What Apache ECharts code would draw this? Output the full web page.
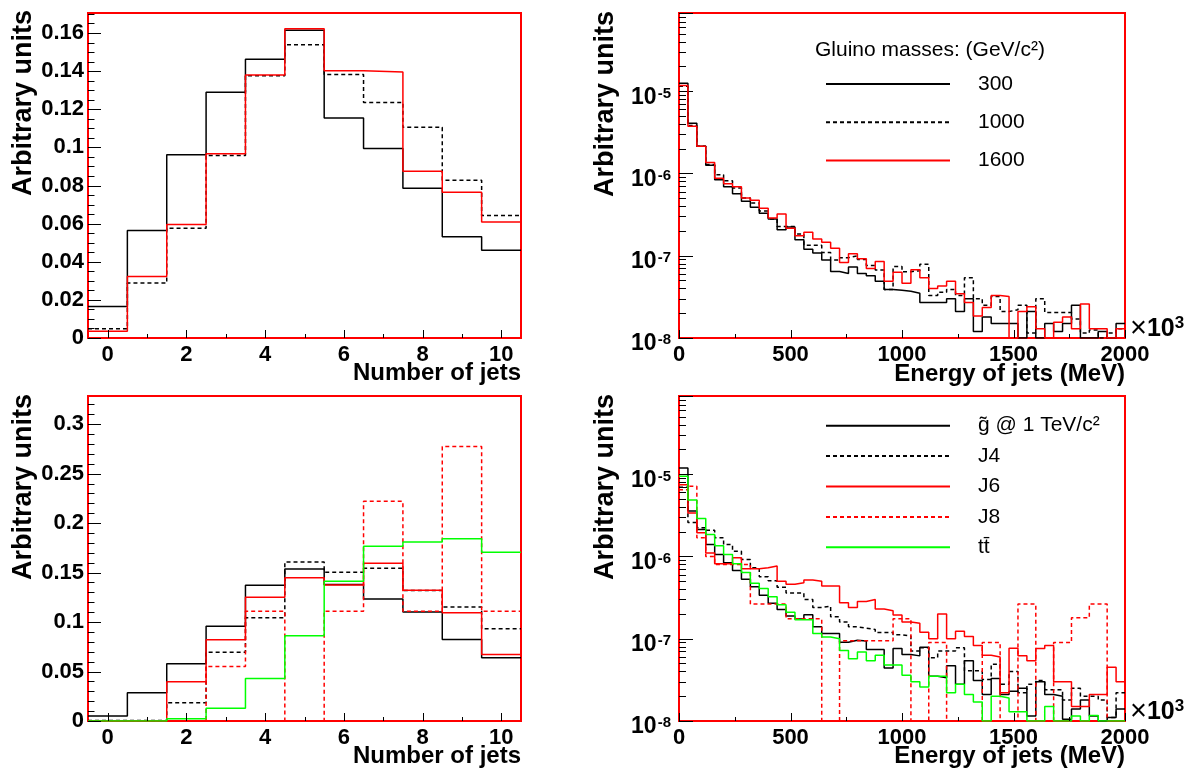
<!DOCTYPE html>
<html>
<head>
<meta charset="utf-8">
<script src="https://cdn.jsdelivr.net/npm/echarts@6/dist/echarts.min.js"></script>
<style>
html, body { margin: 0; padding: 0; background: #ffffff; }
#chart { width: 1188px; height: 774px; }
</style>
</head>
<body>
<div id="chart"></div>
<script>
// ---- Binning ----
const jetCounts = [0, 1, 2, 3, 4, 5, 6, 7, 8, 9, 10];
const energyBinWidth = 40;      // x10^3 MeV per bin
const energyBinCount = 50;      // 0 .. 2000

// ---- Tick positions ----
const jetMajorTicks = [0, 2, 4, 6, 8, 10];
const jetMinorTicks = [1, 3, 5, 7, 9];
const energyMajorTicks = [0, 500, 1000, 1500, 2000];
const energyMinorTicks = [250, 750, 1250, 1750];
const topYMajorTicks = [0, 0.02, 0.04, 0.06, 0.08, 0.1, 0.12, 0.14, 0.16];
const topYMinorStep = 0.005;
const bottomYMajorTicks = [0, 0.05, 0.1, 0.15, 0.2, 0.25, 0.3];
const bottomYMinorStep = 0.01;

// ---- Top-left: number of jets, gluino mass samples ----
const nJets300  = [0.0165, 0.0564, 0.0961, 0.1289, 0.1463, 0.1614, 0.1154, 0.0994, 0.0786, 0.0531, 0.0460];
const nJets1000 = [0.0049, 0.0288, 0.0576, 0.0958, 0.1376, 0.1539, 0.1383, 0.1236, 0.1105, 0.0828, 0.0642];
const nJets1600 = [0.0035, 0.0323, 0.0595, 0.0967, 0.1380, 0.1623, 0.1402, 0.1395, 0.0875, 0.0765, 0.0609];

// ---- Top-right: jet energy, gluino mass samples ----
const eJets300 = [
  1.26e-5, 4.1e-6, 2.15e-6, 1.26e-6, 8.4e-7, 6.9e-7, 5.7e-7, 4.6e-7, 3.9e-7, 3.3e-7,
  2.8e-7, 2.07e-7, 2.24e-7, 1.57e-7, 1.2e-7, 1.08e-7, 8.9e-8, 6.45e-8, 6.1e-8, 7.3e-8,
  6.1e-8, 5.7e-8, 4.9e-8, 3.9e-8, 3.8e-8, 3.7e-8, 3.5e-8, 2.7e-8, 2.7e-8, 2.7e-8,
  3.0e-8, 2.1e-8, 3.0e-8, 1.2e-8, 1.8e-8, 1.5e-8, 1.5e-8, 1.5e-8, 0, 2.1e-8,
  0, 1.5e-8, 1.2e-8, 1.5e-8, 2.5e-8, 0, 1.0e-8, 1.2e-8, 0, 1.5e-8
];
const eJets1000 = [
  1.16e-5, 3.85e-6, 2.15e-6, 1.29e-6, 9.7e-7, 8.2e-7, 6.7e-7, 5.05e-7, 4.4e-7, 3.5e-7,
  2.8e-7, 2.28e-7, 2.28e-7, 1.84e-7, 1.34e-7, 1.34e-7, 1.1e-7, 8.9e-8, 9.5e-8, 1.0e-7,
  9.0e-8, 7.6e-8, 6.7e-8, 3.9e-8, 7.4e-8, 6.4e-8, 6.6e-8, 7.9e-8, 3.3e-8, 3.6e-8,
  3.9e-8, 3.3e-8, 5.4e-8, 3.0e-8, 2.5e-8, 3.2e-8, 2.1e-8, 2.2e-8, 2.5e-8, 1.15e-8,
  3.0e-8, 2.05e-8, 2.05e-8, 2.05e-8, 1.7e-8, 1.15e-8, 1.25e-8, 0, 1.15e-8, 1.3e-8
];
const eJets1600 = [
  1.18e-5, 3.78e-6, 2.15e-6, 1.37e-6, 8.8e-7, 7.55e-7, 6.9e-7, 5.05e-7, 4.73e-7, 3.8e-7,
  2.88e-7, 3.22e-7, 2.17e-7, 1.75e-7, 1.93e-7, 1.6e-7, 1.46e-7, 1.24e-7, 8.3e-8, 1.06e-7,
  9.2e-8, 7.0e-8, 8.5e-8, 4.9e-8, 6.3e-8, 4.65e-8, 6.75e-8, 5.4e-8, 4.0e-8, 4.3e-8,
  4.9e-8, 3.45e-8, 2.7e-8, 1.85e-8, 2.35e-8, 3.3e-8, 3.2e-8, 0, 2.1e-8, 2.4e-8,
  1.3e-8, 0, 1.55e-8, 1.8e-8, 1.3e-8, 2.6e-8, 1.3e-8, 1.3e-8, 0, 1.3e-8
];

// ---- Bottom-left: number of jets, signal and background samples ----
const nJetsGluino = [0.0050, 0.0286, 0.0578, 0.0958, 0.1372, 0.1537, 0.1380, 0.1234, 0.1103, 0.0824, 0.0639];
const nJetsJ4     = [0.0005, 0.0005, 0.0185, 0.0696, 0.1043, 0.1607, 0.1503, 0.1544, 0.1318, 0.1153, 0.0932];
const nJetsJ6     = [0, 0, 0.0397, 0.0821, 0.1251, 0.1449, 0.1375, 0.1594, 0.1322, 0.1093, 0.0673];
const nJetsJ8     = [0, 0, 0, 0.0552, 0.1110, 0, 0.1110, 0.2220, 0.1110, 0.2774, 0.1110];
const nJetsTT     = [0, 0, 0.0024, 0.0128, 0.0430, 0.0861, 0.1412, 0.1766, 0.1809, 0.1843, 0.1705];

// ---- Bottom-right: jet energy, signal and background samples ----
const eJetsGluino = [
  1.2e-5, 3.6e-6, 2.14e-6, 1.4e-6, 1.06e-6, 8.4e-7, 6.8e-7, 5.3e-7, 4.3e-7, 3.4e-7,
  2.7e-7, 2.28e-7, 1.9e-7, 1.74e-7, 1.96e-7, 1.4e-7, 1.16e-7, 1.16e-7, 9.1e-8, 9.6e-8,
  9.4e-8, 7.4e-8, 7.4e-8, 4.4e-8, 7.6e-8, 6.45e-8, 6.2e-8, 7.9e-8, 3.5e-8, 3.35e-8,
  4.7e-8, 2.8e-8, 5.4e-8, 3.1e-8, 2.1e-8, 3.3e-8, 2.1e-8, 2.3e-8, 2.5e-8, 1.15e-8,
  3.0e-8, 2.1e-8, 2.0e-8, 1.05e-8, 1.4e-8, 1.8e-8, 1.15e-8, 0, 1.1e-8, 1.4e-8
];
const eJetsJ4 = [
  7.0e-6, 2.6e-6, 2.25e-6, 2.1e-6, 1.7e-6, 1.4e-6, 1.16e-6, 9.2e-7, 7.3e-7, 5.7e-7,
  5.1e-7, 4.25e-7, 3.6e-7, 3.6e-7, 3.0e-7, 2.4e-7, 2.5e-7, 1.85e-7, 1.6e-7, 1.4e-7,
  1.35e-7, 1.3e-7, 1.19e-7, 1.19e-7, 1.12e-7, 1.08e-7, 7.1e-8, 7.8e-8, 5.9e-8, 7.1e-8,
  7.1e-8, 7.8e-8, 4.1e-8, 4.1e-8, 3.2e-8, 4.9e-8, 2.8e-8, 4.0e-8, 2.2e-8, 2.8e-8,
  3.1e-8, 2.4e-8, 2.4e-8, 1.8e-8, 2.5e-8, 2.0e-8, 2.0e-8, 1.8e-8, 1.1e-8, 2.2e-8
];
const eJetsJ6 = [
  7.5e-6, 3.4e-6, 1.95e-6, 1.11e-6, 8.2e-7, 8.2e-7, 9.7e-7, 7.1e-7, 7.1e-7, 7.3e-7,
  7.7e-7, 5.0e-7, 4.6e-7, 4.8e-7, 5.2e-7, 5.0e-7, 4.4e-7, 4.4e-7, 2.75e-7, 2.4e-7,
  2.85e-7, 3.0e-7, 2.3e-7, 2.2e-7, 1.95e-7, 1.6e-7, 1.55e-7, 1.2e-7, 1.0e-7, 2.0e-7,
  1.0e-7, 1.24e-7, 1.07e-7, 8.3e-8, 6.3e-8, 6.0e-8, 2.2e-8, 7.7e-8, 6.2e-8, 5.4e-8,
  7.6e-8, 8.3e-8, 3.0e-8, 3.0e-8, 1.5e-8, 1.5e-8, 2.1e-8, 2.1e-8, 4.5e-8, 3.0e-8
];
const eJetsJ8 = [
  6.5e-6, 7.2e-6, 1.7e-6, 1.0e-6, 8.0e-7, 8.0e-7, 8.0e-7, 8.0e-7, 2.65e-7, 2.65e-7,
  2.65e-7, 2.65e-7, 1.75e-7, 1.75e-7, 1.75e-7, 1.75e-7, 0, 0, 9.5e-8, 9.5e-8,
  9.5e-8, 9.5e-8, 9.5e-8, 9.5e-8, 1.75e-7, 1.75e-7, 0, 0, 9.0e-8, 9.0e-8,
  0, 0, 0, 0, 9.0e-8, 9.0e-8, 0, 0, 2.65e-7, 2.65e-7,
  0, 0, 9.0e-8, 9.0e-8, 1.8e-7, 1.8e-7, 2.65e-7, 2.65e-7, 0, 0
];
const eJetsTT = [
  9.5e-6, 4.9e-6, 2.9e-6, 1.86e-6, 1.36e-6, 1.06e-6, 8.2e-7, 6.4e-7, 4.75e-7, 4.1e-7,
  3.26e-7, 2.6e-7, 2.1e-7, 1.7e-7, 1.7e-7, 1.16e-7, 1.05e-7, 1.0e-7, 7.2e-8, 5.7e-8,
  6.9e-8, 5.4e-8, 6.3e-8, 4.8e-8, 4.8e-8, 3.6e-8, 3.0e-8, 2.6e-8, 3.5e-8, 3.5e-8,
  2.2e-8, 2.8e-8, 2.1e-8, 1.7e-8, 0, 2.0e-8, 1.9e-8, 1.3e-8, 1.3e-8, 0,
  0, 1.5e-8, 0, 0, 1.15e-8, 0, 1.17e-8, 0, 0, 0
];

// ---- Legend entries ----
const massLabels = ['300', '1000', '1600'];
const sampleLabels = ['g\u0303 @ 1 TeV/c\u00b2', 'J4', 'J6', 'J8', 'tt\u0304'];
const massTitle = 'Gluino masses: (GeV/c\u00b2)';

// ---- Axis ranges ----
const jetXMin = -0.5, jetXMax = 10.5;
const jetYMaxTop = 0.1705;
const jetYMaxBottom = 0.3285;
const logMin = 1e-8;
const logMax = 9e-5;

const FONT = '"Liberation Sans", Arial, Helvetica, sans-serif';
const RED = '#ff0000', BLACK = '#000000', GREEN = '#00ff00';

// Bin edges
const jetEdges = jetCounts.map(n => n - 0.5).concat([jetCounts[jetCounts.length - 1] + 0.5]);
const energyEdges = Array.from({ length: energyBinCount + 1 }, (_, i) => i * energyBinWidth);

// Minor tick positions between the labelled ticks
function minorTicks(step, upTo, majorStep) {
  const out = [];
  for (let i = 1; i * step <= upTo + 1e-9; i++) {
    const v = +(i * step).toFixed(4);
    const r = v / majorStep;
    if (Math.abs(r - Math.round(r)) > 1e-6) out.push(v);
  }
  return out;
}
const topYMinorTicks = minorTicks(topYMinorStep, 0.17, 0.02);
const bottomYMinorTicks = minorTicks(bottomYMinorStep, 0.32, 0.05);

// Outline points for a step histogram; empty bins drop to the floor of a log axis
function outline(edges, values, floor) {
  const pts = values.map((v, i) => [edges[i], (floor != null && v < floor) ? floor : v]);
  pts.push([edges[edges.length - 1], pts[pts.length - 1][1]]);
  return pts;
}

function hist(name, edges, values, axis, color, dashed, floor) {
  return {
    type: 'line',
    name: name,
    xAxisIndex: axis,
    yAxisIndex: axis,
    data: outline(edges, values, floor),
    step: 'end',
    symbol: 'none',
    z: 3,
    lineStyle: { color: color, width: 1.5, type: dashed ? [4, 3] : 'solid' },
    itemStyle: { color: color },
    emphasis: { disabled: true }
  };
}

const gridBase = { show: true, borderColor: RED, borderWidth: 2 };
const grids = [
  Object.assign({ left: 88,  top: 13,  width: 433, height: 325 }, gridBase),
  Object.assign({ left: 679, top: 13,  width: 446, height: 325 }, gridBase),
  Object.assign({ left: 88,  top: 396, width: 433, height: 325 }, gridBase),
  Object.assign({ left: 679, top: 396, width: 446, height: 325 }, gridBase)
];

const tickLabel = { color: BLACK, fontSize: 22, fontWeight: 'bold', fontFamily: FONT };
const noTicks = { axisTick: { show: false }, minorTick: { show: false } };

function jetXAxis(gi) {
  return Object.assign({
    type: 'value', gridIndex: gi, min: jetXMin, max: jetXMax, minInterval: 2, maxInterval: 2,
    axisLine: { show: false, onZero: false }, splitLine: { show: false },
    axisLabel: Object.assign({ margin: 6, showMinLabel: false, showMaxLabel: false, formatter: v => String(v) }, tickLabel)
  }, noTicks);
}
function energyXAxis(gi) {
  return Object.assign({
    type: 'value', gridIndex: gi, min: 0, max: 2000, interval: 500,
    axisLine: { show: false, onZero: false }, splitLine: { show: false },
    axisLabel: Object.assign({ margin: 6, formatter: v => String(v) }, tickLabel)
  }, noTicks);
}
function linearYAxis(gi, max, interval) {
  return Object.assign({
    type: 'value', gridIndex: gi, min: 0, max: max, interval: interval,
    axisLine: { show: false, onZero: false }, splitLine: { show: false },
    axisLabel: Object.assign({ margin: 4, showMaxLabel: false, formatter: v => String(+v.toFixed(4)) }, tickLabel)
  }, noTicks);
}
function logYAxis(gi) {
  return {
    type: 'log', logBase: 10, gridIndex: gi, min: logMin, max: logMax,
    axisLine: { show: false, onZero: false }, splitLine: { show: false },
    axisTick: { show: true, inside: true, length: 14, lineStyle: { color: BLACK, width: 1 } },
    minorTick: { show: true, splitNumber: 9, length: 7, lineStyle: { color: BLACK, width: 1 } },
    axisLabel: {
      margin: 8, showMaxLabel: false, color: BLACK, padding: [12, 0, 0, 0],
      formatter: v => '{b|10}{s|' + Math.round(Math.log10(v)) + '}',
      rich: {
        b: { fontSize: 23, fontWeight: 'bold', fontFamily: FONT, color: BLACK },
        s: { fontSize: 15, fontWeight: 'bold', fontFamily: FONT, color: BLACK, verticalAlign: 'top', padding: [0, 0, 8, 1] }
      }
    }
  };
}

function yTitle(x, y) {
  return {
    type: 'text', x: x, y: y, rotation: Math.PI / 2, silent: true,
    style: { text: 'Arbitrary units', fontSize: 27, fontWeight: 'bold', fontFamily: FONT, fill: BLACK, align: 'right', verticalAlign: 'middle' }
  };
}
function xTitle(text, x, y) {
  return {
    type: 'text', x: x, y: y, silent: true,
    style: { text: text, fontSize: 24, fontWeight: 'bold', fontFamily: FONT, fill: BLACK, align: 'right', verticalAlign: 'middle' }
  };
}
function scaleNote(x, y) {
  return {
    type: 'text', x: x, y: y, silent: true,
    style: {
      text: '{x|\u00d7}{b|10}{s|3}', align: 'left', verticalAlign: 'middle',
      rich: {
        x: { fontSize: 29, fontFamily: FONT, fill: BLACK, fontWeight: 'normal' },
        b: { fontSize: 25, fontFamily: FONT, fill: BLACK, fontWeight: 'bold' },
        s: { fontSize: 17, fontFamily: FONT, fill: BLACK, fontWeight: 'bold', verticalAlign: 'top', padding: [0, 0, 10, 0] }
      }
    }
  };
}
function legendHeading(text, x, y) {
  return {
    type: 'text', x: x, y: y, silent: true,
    style: { text: text, fontSize: 21, fontFamily: FONT, fill: BLACK, align: 'left', verticalAlign: 'middle' }
  };
}

const legendText = { fontSize: 21, fontFamily: FONT, color: BLACK, lineHeight: 24, padding: [0, 0, 0, 23] };
const legendHiddenSymbol = { color: 'transparent', borderColor: 'transparent', borderWidth: 0, opacity: 0 };

const textGraphics = [
  legendHeading(massTitle, 815, 50),
  yTitle(24, 10), yTitle(606, 11), yTitle(24, 394), yTitle(606, 394),
  xTitle('Number of jets', 521, 373), xTitle('Energy of jets (MeV)', 1125, 374),
  xTitle('Number of jets', 521, 756), xTitle('Energy of jets (MeV)', 1125, 756),
  scaleNote(1130, 329), scaleNote(1130, 712)
];

const option = {
  animation: false,
  grid: grids,
  xAxis: [jetXAxis(0), energyXAxis(1), jetXAxis(2), energyXAxis(3)],
  yAxis: [linearYAxis(0, jetYMaxTop, 0.02), logYAxis(1), linearYAxis(2, jetYMaxBottom, 0.05), logYAxis(3)],
  legend: [
    {
      data: massLabels, orient: 'vertical', left: 825, top: 72, padding: 0,
      itemWidth: 124, itemHeight: 24, itemGap: 14.2, selectedMode: false,
      itemStyle: legendHiddenSymbol, textStyle: legendText
    },
    {
      data: sampleLabels, orient: 'vertical', left: 825, top: 413.7, padding: 0,
      itemWidth: 124, itemHeight: 24, itemGap: 6.4, selectedMode: false,
      itemStyle: legendHiddenSymbol, textStyle: legendText
    }
  ],
  graphic: textGraphics,
  series: [
    hist(massLabels[0], jetEdges, nJets300, 0, BLACK, false),
    hist(massLabels[1], jetEdges, nJets1000, 0, BLACK, true),
    hist(massLabels[2], jetEdges, nJets1600, 0, RED, false),

    hist(massLabels[0], energyEdges, eJets300, 1, BLACK, false, logMin),
    hist(massLabels[1], energyEdges, eJets1000, 1, BLACK, true, logMin),
    hist(massLabels[2], energyEdges, eJets1600, 1, RED, false, logMin),

    hist(sampleLabels[0], jetEdges, nJetsGluino, 2, BLACK, false),
    hist(sampleLabels[1], jetEdges, nJetsJ4, 2, BLACK, true),
    hist(sampleLabels[2], jetEdges, nJetsJ6, 2, RED, false),
    hist(sampleLabels[3], jetEdges, nJetsJ8, 2, RED, true),
    hist(sampleLabels[4], jetEdges, nJetsTT, 2, GREEN, false),

    hist(sampleLabels[0], energyEdges, eJetsGluino, 3, BLACK, false, logMin),
    hist(sampleLabels[1], energyEdges, eJetsJ4, 3, BLACK, true, logMin),
    hist(sampleLabels[2], energyEdges, eJetsJ6, 3, RED, false, logMin),
    hist(sampleLabels[3], energyEdges, eJetsJ8, 3, RED, true, logMin),
    hist(sampleLabels[4], energyEdges, eJetsTT, 3, GREEN, false, logMin)
  ]
};

const chart = echarts.init(document.getElementById('chart'));
chart.setOption(option);

// Inward frame ticks, placed through each grid's own scales
const tickGraphics = [];
function addXTicks(gi, values, yAt, len) {
  values.forEach(v => {
    const p = chart.convertToPixel({ gridIndex: gi }, [v, yAt]);
    if (!p) return;
    const x = Math.round(p[0]) + 0.5;
    tickGraphics.push({ type: 'line', silent: true, z: 100,
      shape: { x1: x, y1: p[1], x2: x, y2: p[1] - len }, style: { stroke: BLACK, lineWidth: 1 } });
  });
}
function addYTicks(gi, values, xAt, len) {
  values.forEach(v => {
    const p = chart.convertToPixel({ gridIndex: gi }, [xAt, v]);
    if (!p) return;
    const y = Math.round(p[1]) + 0.5;
    tickGraphics.push({ type: 'line', silent: true, z: 100,
      shape: { x1: p[0], y1: y, x2: p[0] + len, y2: y }, style: { stroke: BLACK, lineWidth: 1 } });
  });
}
try {
  addXTicks(0, jetMajorTicks, 0, 8);          addXTicks(0, jetMinorTicks, 0, 4);
  addYTicks(0, topYMajorTicks, jetXMin, 13);  addYTicks(0, topYMinorTicks, jetXMin, 6.5);
  addXTicks(1, energyMajorTicks, logMin, 8);  addXTicks(1, energyMinorTicks, logMin, 4);
  addXTicks(2, jetMajorTicks, 0, 8);          addXTicks(2, jetMinorTicks, 0, 4);
  addYTicks(2, bottomYMajorTicks, jetXMin, 13); addYTicks(2, bottomYMinorTicks, jetXMin, 6.5);
  addXTicks(3, energyMajorTicks, logMin, 8);  addXTicks(3, energyMinorTicks, logMin, 4);
  if (tickGraphics.length) {
    chart.setOption({ graphic: textGraphics.concat(tickGraphics) });
  }
} catch (e) {
  // leave the chart without the extra frame ticks
}
</script>
</body>
</html>
